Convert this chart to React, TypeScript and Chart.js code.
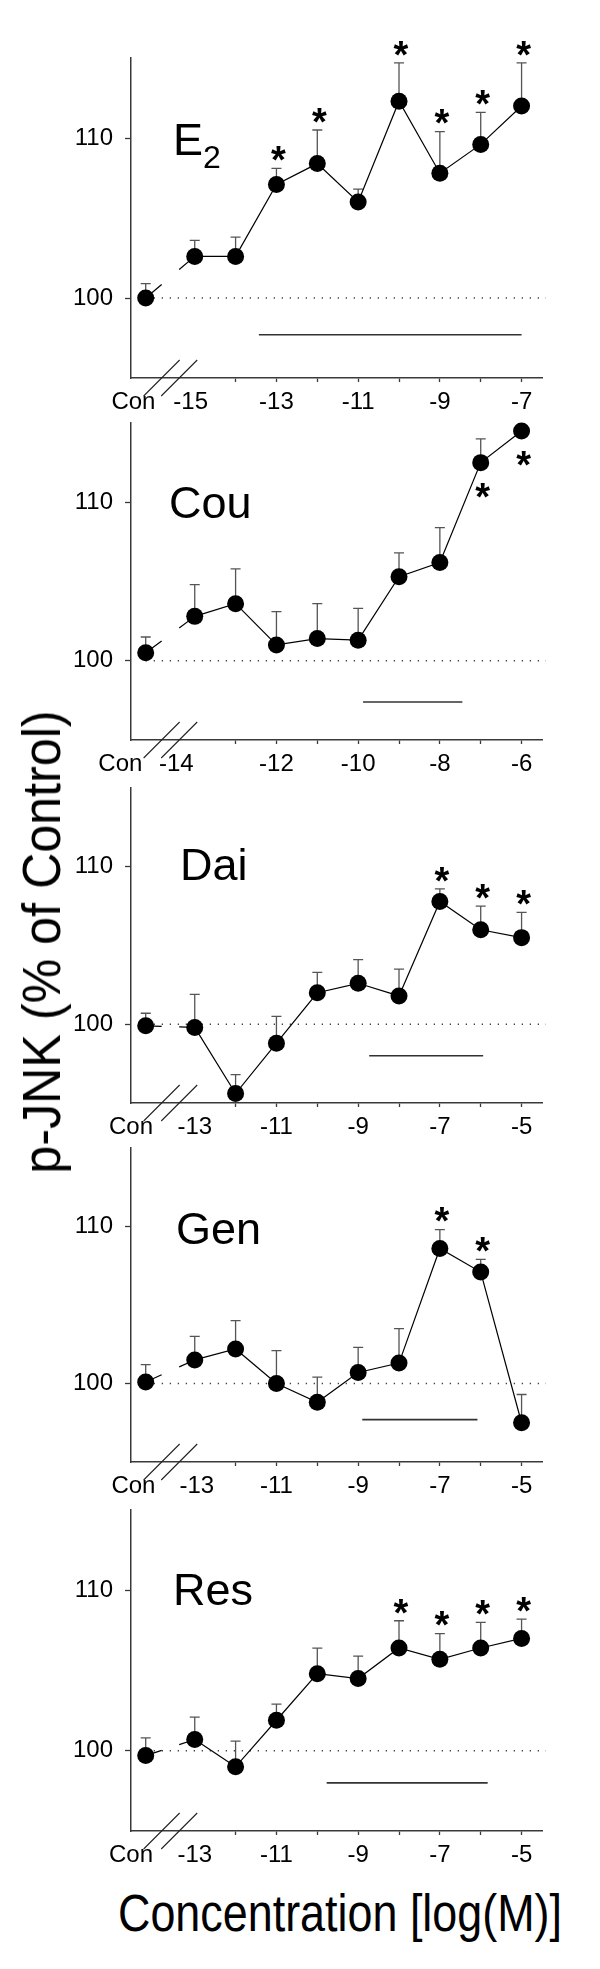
import { useEffect, useRef } from "react";
import Chart from "chart.js/auto";

const FONT = '"Liberation Sans", Arial, Helvetica, sans-serif';
const AXIS = "#3a3a3a";

// every series starts with the control ("Con") value, then one value per dose
const e2Doses = [-15, -14, -13, -12, -11, -10, -9, -8, -7];
const e2Mean = [100.0, 102.6, 102.6, 107.1, 108.4, 106.0, 112.3, 107.8, 109.6, 112.0];
const e2Upper = [100.9, 103.6, 103.8, 108.1, 110.5, 106.8, 114.7, 110.4, 111.6, 114.7];
const e2Sig = [0, 0, 0, 1, 1, 0, 1, 1, 1, 1];
const e2Bar = [-13.43, -7.0];
const e2BarLevel = 97.7;

const couDoses = [-14, -13, -12, -11, -10, -9, -8, -7, -6];
const couMean = [100.5, 102.8, 103.6, 101.0, 101.4, 101.3, 105.3, 106.2, 112.5, 114.5];
const couUpper = [101.5, 104.8, 105.8, 103.1, 103.6, 103.3, 106.8, 108.4, 114.0, 114.5];
const couSig = [0, 0, 0, 0, 0, 0, 0, 0, -1, -1];
const couBar = [-9.88, -7.45];
const couBarLevel = 97.4;

const daiDoses = [-13, -12, -11, -10, -9, -8, -7, -6, -5];
const daiMean = [99.9, 99.8, 95.6, 98.8, 102.0, 102.6, 101.8, 107.8, 106.0, 105.5];
const daiUpper = [100.7, 101.9, 96.8, 100.5, 103.3, 104.1, 103.5, 108.6, 107.5, 107.1];
const daiSig = [0, 0, 0, 0, 0, 0, 0, 1, 1, 1];
const daiBar = [-8.73, -5.94];
const daiBarLevel = 98.0;

const genDoses = [-13, -12, -11, -10, -9, -8, -7, -6, -5];
const genMean = [100.1, 101.5, 102.2, 100.0, 98.8, 100.7, 101.3, 108.6, 107.1, 97.5];
const genUpper = [101.2, 103.0, 104.0, 102.1, 100.4, 102.3, 103.5, 109.8, 107.9, 99.3];
const genSig = [0, 0, 0, 0, 0, 0, 0, 1, 1, 0];
const genBar = [-8.9, -6.08];
const genBarLevel = 97.7;

const resDoses = [-13, -12, -11, -10, -9, -8, -7, -6, -5];
const resMean = [99.7, 100.7, 99.0, 101.9, 104.8, 104.5, 106.4, 105.7, 106.4, 107.0];
const resUpper = [100.8, 102.1, 100.6, 102.9, 106.4, 105.9, 108.1, 107.3, 108.0, 108.2];
const resSig = [0, 0, 0, 0, 0, 0, 1, 1, 1, 1];
const resBar = [-9.77, -5.83];
const resBarLevel = 98.0;

const yTicks = [100, 110];

const panels = [
  { title: "E", sub: "2", doses: e2Doses, mean: e2Mean, upper: e2Upper, sig: e2Sig, bar: e2Bar, barLevel: e2BarLevel },
  { title: "Cou", sub: "", doses: couDoses, mean: couMean, upper: couUpper, sig: couSig, bar: couBar, barLevel: couBarLevel },
  { title: "Dai", sub: "", doses: daiDoses, mean: daiMean, upper: daiUpper, sig: daiSig, bar: daiBar, barLevel: daiBarLevel },
  { title: "Gen", sub: "", doses: genDoses, mean: genMean, upper: genUpper, sig: genSig, bar: genBar, barLevel: genBarLevel },
  { title: "Res", sub: "", doses: resDoses, mean: resMean, upper: resUpper, sig: resSig, bar: resBar, barLevel: resBarLevel }
];

// page layout
const AXIS_LEFT = 131;
const AXIS_RIGHT = 542;
const PAD_TOP = 30;
const X_AXIS_H = 44;
const panelTop = [58, 423, 788, 1148, 1510];
const panelHeight = [320, 317, 315, 314, 321];
const titlePos = [
  [42, 97],
  [38, 95],
  [49, 92],
  [45, 96],
  [42, 95]
];
const labelShift = [
  [-0.3, -0.1],
  [-0.62, -0.45],
  [-0.36, 0],
  [-0.3, 0.05],
  [-0.36, 0]
];

function Panel({ index }: { index: number }) {
  const canvasRef = useRef<HTMLCanvasElement | null>(null);
  const top = panelTop[index] - PAD_TOP;
  const height = panelHeight[index] + PAD_TOP + X_AXIS_H;

  useEffect(() => {
    const canvas = canvasRef.current;
    if (!canvas) return;
    const p = panels[index];
    const first = p.doses[0];
    const last = p.doses[p.doses.length - 1];
    const conPos = first - 1.2;
    const breakA = first - 0.81;
    const breakB = first - 0.38;
    const xs = [conPos, ...p.doses];
    const [shiftCon, shiftFirst] = labelShift[index];
    const tickValues = [conPos + shiftCon, first + shiftFirst, ...p.doses.slice(1)];

    const decor = {
      id: "decor",
      beforeDatasetsDraw(chart: any) {
        const { ctx, chartArea } = chart;
        const sx = chart.scales.x;
        const sy = chart.scales.y;
        ctx.save();
        const y100 = sy.getPixelForValue(100);
        ctx.strokeStyle = "#444";
        ctx.lineWidth = 1.3;
        ctx.setLineDash([1.3, 6.7]);
        ctx.beginPath();
        ctx.moveTo(sx.getPixelForValue(conPos), y100);
        ctx.lineTo(chartArea.right + 4, y100);
        ctx.stroke();
        ctx.setLineDash([]);
        ctx.strokeStyle = "#555";
        ctx.lineWidth = 1.3;
        xs.forEach((xv, i) => {
          if (p.upper[i] <= p.mean[i]) return;
          const px = sx.getPixelForValue(xv);
          const y0 = sy.getPixelForValue(p.mean[i]);
          const y1 = sy.getPixelForValue(p.upper[i]);
          ctx.beginPath();
          ctx.moveTo(px, y0);
          ctx.lineTo(px, y1);
          ctx.moveTo(px - 5, y1);
          ctx.lineTo(px + 5, y1);
          ctx.stroke();
        });
        ctx.restore();
      },
      afterDatasetsDraw(chart: any) {
        const { ctx } = chart;
        const sx = chart.scales.x;
        const sy = chart.scales.y;
        ctx.save();
        ctx.font = `bold 38px ${FONT}`;
        ctx.textAlign = "center";
        ctx.textBaseline = "alphabetic";
        ctx.fillStyle = "#000";
        p.sig.forEach((s, i) => {
          if (!s) return;
          const px = sx.getPixelForValue(xs[i]) + 2;
          const center = s > 0 ? sy.getPixelForValue(p.upper[i]) - 16.5 : sy.getPixelForValue(p.mean[i]) + 26;
          ctx.fillText("*", px, center + 0.56 * 38);
        });
        ctx.restore();
      },
      afterDraw(chart: any) {
        const { ctx, chartArea } = chart;
        const sx = chart.scales.x;
        ctx.save();
        ctx.strokeStyle = "#222";
        ctx.lineWidth = 1.1;
        ctx.beginPath();
        [breakA, breakB].forEach((v) => {
          const bx = sx.getPixelForValue(v);
          ctx.moveTo(bx - 18, chartArea.bottom + 18);
          ctx.lineTo(bx + 18, chartArea.bottom - 18);
        });
        ctx.stroke();
        const [tx, ty] = titlePos[index];
        ctx.fillStyle = "#000";
        ctx.textAlign = "left";
        ctx.textBaseline = "alphabetic";
        ctx.font = `45px ${FONT}`;
        ctx.fillText(p.title, chartArea.left + tx, chartArea.top + ty);
        if (p.sub) {
          const w = ctx.measureText(p.title).width;
          ctx.font = `32px ${FONT}`;
          ctx.fillText(p.sub, chartArea.left + tx + w, chartArea.top + ty + 13);
        }
        ctx.restore();
      }
    };

    const chart = new Chart(canvas, {
      type: "scatter",
      data: {
        datasets: [
          {
            data: xs.map((x, i) => ({ x, y: p.mean[i] })),
            showLine: true,
            borderColor: "#000",
            borderWidth: 1.2,
            pointRadius: 8.5,
            pointHoverRadius: 8.5,
            pointBackgroundColor: "#000",
            pointBorderWidth: 0,
            clip: false,
            segment: {
              // the Con -> first dose segment is interrupted at the axis break
              borderDash: (ctx: any) => {
                if (ctx.p0DataIndex !== 0) return [];
                const sx = ctx.chart.scales.x;
                const a = sx.getPixelForValue(breakA);
                const b = sx.getPixelForValue(breakB);
                const { p0, p1 } = ctx;
                const dx = p1.x - p0.x;
                const len = Math.hypot(dx, p1.y - p0.y);
                const t1 = (a - p0.x) / dx;
                const t2 = (b - p0.x) / dx;
                return [t1 * len, (t2 - t1) * len, len];
              }
            }
          },
          {
            data: p.bar.map((x) => ({ x, y: p.barLevel })),
            showLine: true,
            borderColor: "#333",
            borderWidth: 1.6,
            pointRadius: 0,
            pointHoverRadius: 0
          }
        ]
      },
      options: {
        responsive: false,
        animation: false,
        events: [],
        layout: { padding: { top: PAD_TOP, right: 600 - AXIS_RIGHT, left: 0, bottom: 0 } },
        plugins: { legend: { display: false }, tooltip: { enabled: false } },
        scales: {
          x: {
            type: "linear",
            bounds: "data",
            min: conPos - 0.36,
            max: last + 0.5,
            afterFit: (s: any) => {
              s.height = X_AXIS_H;
            },
            afterBuildTicks: (s: any) => {
              s.ticks = tickValues.map((value) => ({ value }));
            },
            border: { display: true, color: AXIS, width: 1.5 },
            grid: {
              drawOnChartArea: false,
              drawTicks: true,
              tickLength: 4,
              tickWidth: 1.3,
              tickColor: (c: any) => (c.index < 2 ? "rgba(0,0,0,0)" : AXIS)
            },
            ticks: {
              autoSkip: false,
              maxRotation: 0,
              padding: 6,
              color: "#000",
              font: { family: FONT, size: 24 },
              callback: (_v: any, i: number) =>
                i === 0 ? "Con" : (i - 1) % 2 === 0 ? String(p.doses[i - 1]) : ""
            }
          },
          y: {
            bounds: "data",
            min: 95,
            max: 115,
            afterFit: (s: any) => {
              s.width = AXIS_LEFT;
            },
            afterBuildTicks: (s: any) => {
              s.ticks = yTicks.map((value) => ({ value }));
            },
            border: { display: true, color: AXIS, width: 1.5 },
            grid: { drawOnChartArea: false, drawTicks: true, tickLength: 6, tickWidth: 1.3, tickColor: AXIS },
            ticks: {
              padding: 12,
              color: "#000",
              font: { family: FONT, size: 24 },
              callback: (v: any) => String(v)
            }
          }
        }
      },
      plugins: [decor]
    });

    return () => chart.destroy();
  }, [index]);

  return (
    <canvas
      ref={canvasRef}
      width={600}
      height={height}
      style={{ position: "absolute", left: 0, top, display: "block" }}
    />
  );
}

export default function App() {
  return (
    <div
      style={{
        position: "absolute",
        left: 0,
        top: 0,
        width: 600,
        height: 1969,
        background: "#fff",
        overflow: "hidden",
        fontFamily: FONT,
        color: "#000"
      }}
    >
      {panels.map((_, i) => (
        <Panel key={i} index={i} />
      ))}
      <div
        style={{
          position: "absolute",
          left: 41,
          top: 942,
          transform: "translate(-50%, -50%) rotate(-90deg) scaleX(0.93)",
          fontSize: 54,
          lineHeight: 1,
          whiteSpace: "nowrap"
        }}
      >
        p-JNK (% of Control)
      </div>
      <div
        style={{
          position: "absolute",
          left: 340,
          top: 1888,
          transform: "translateX(-50%) scaleX(0.88)",
          fontSize: 51,
          lineHeight: 1,
          whiteSpace: "nowrap"
        }}
      >
        Concentration [log(M)]
      </div>
    </div>
  );
}
